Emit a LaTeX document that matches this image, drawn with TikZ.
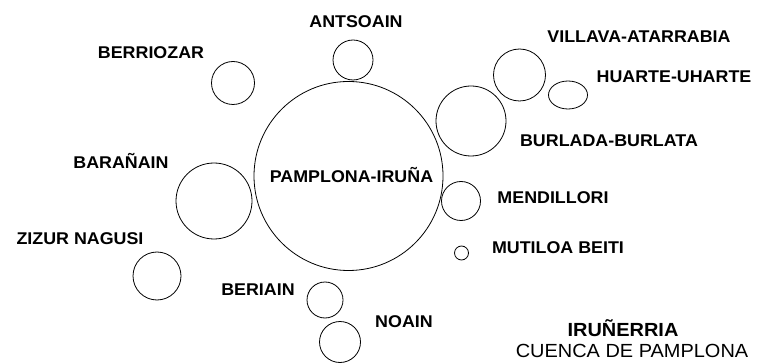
\documentclass[tikz,border=0pt]{standalone}
\usepackage{fontspec}
\setmainfont{Liberation Sans}[FakeStretch=1.05]
\usepackage{tikz}
\usetikzlibrary{shapes.geometric}

\begin{document}
\begin{tikzpicture}[x=1pt, y=-1pt, town/.style={circle,draw,line width=0.8pt,inner sep=0pt}, lbl/.style={anchor=base,inner sep=0pt,font=\fontsize{17}{20}\selectfont\bfseries}]
\useasboundingbox (0,0) rectangle (762,363);
% circles
\node[town,minimum size=189pt] (pamp) at (348.5,176) {};
\node[town,minimum size=40pt] (ants) at (353,60) {};
\node[town,minimum size=43pt] (berr) at (233,83) {};
\node[town,minimum size=76pt] (bara) at (214,201) {};
\node[town,minimum size=48pt] (ziz) at (157,276) {};
\node[town,minimum size=36pt] (beri) at (325,300) {};
\node[town,minimum size=41pt] (noa) at (340,342) {};
\node[town,minimum size=39pt] (mend) at (461,201) {};
\node[town,minimum size=14pt] (mut) at (461.5,253) {};
\node[town,minimum size=70pt] (burl) at (471,121) {};
\node[town,minimum size=52pt] (vill) at (519.5,75) {};
\node[ellipse,draw,line width=0.8pt,inner sep=0pt,minimum width=39pt,minimum height=28pt] (huar) at (568,95) {};
% labels
\node[lbl] (pamplbl) at (351.5,183) {PAMPLONA-IRUÑA};
\node[lbl] (antslbl) at (356,28) {ANTSOAIN};
\node[lbl] (berrlbl) at (151,59) {BERRIOZAR};
\node[lbl] (baralbl) at (121,169) {BARAÑAIN};
\node[lbl] (zizlbl) at (80,244) {ZIZUR NAGUSI};
\node[lbl] (berilbl) at (258,295) {BERIAIN};
\node[lbl] (noalbl) at (404,327) {NOAIN};
\node[lbl] (mendlbl) at (553,204) {MENDILLORI};
\node[lbl] (mutlbl) at (558,254) {MUTILOA BEITI};
\node[lbl] (burllbl) at (609,147) {BURLADA-BURLATA};
\node[lbl] (villlbl) at (639,43) {VILLAVA-ATARRABIA};
\node[lbl] (huarlbl) at (674,83) {HUARTE-UHARTE};
\node[lbl,font=\fontsize{19}{22}\selectfont\bfseries] (title) at (623,336) {IRUÑERRIA};
\node[lbl,font=\fontsize{19}{22}\selectfont] (subtitle) at (632,357) {CUENCA DE PAMPLONA};
\end{tikzpicture}
\end{document}
